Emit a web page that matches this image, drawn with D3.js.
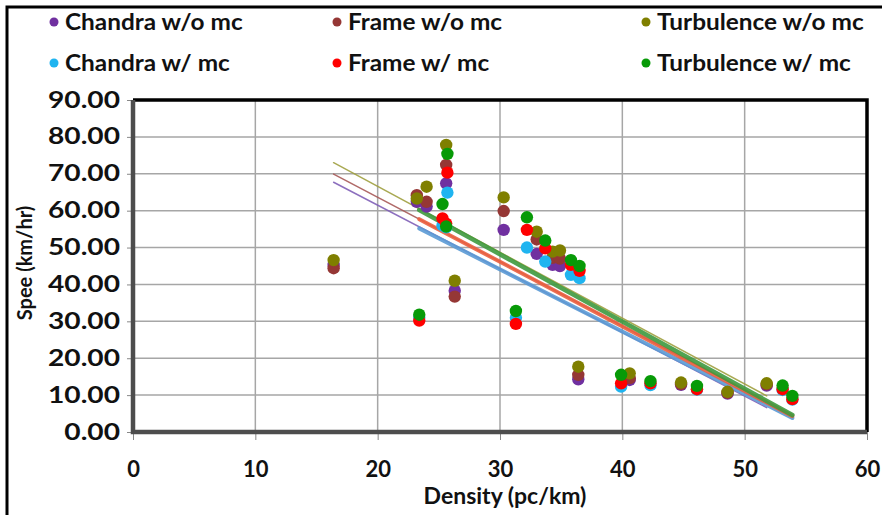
<!DOCTYPE html>
<html>
<head>
<meta charset="utf-8">
<script src="https://cdn.jsdelivr.net/npm/d3@7"></script>
<style>
  body { margin: 0; background: #fff; }
  text { font-family: Lato, "Open Sans", sans-serif; font-weight: bold; fill: #111; }
</style>
</head>
<body>
<svg width="882" height="515"></svg>
<script>
(function (d3) {
  'use strict';

  // densities (x) for the two groups of runs
  const densityNoMc = [16.4, 23.2, 24.0, 25.6, 26.3, 30.3, 33.0, 34.3, 34.9, 36.4, 40.6, 44.8, 48.6, 51.8];
  const densityMc = [23.4, 25.3, 25.6, 25.7, 31.3, 32.2, 33.7, 35.8, 36.5, 39.9, 42.3, 46.1, 53.1, 53.9];

  // speeds (y)
  const chandraNoMc = [45.3, 62.4, 61.1, 67.4, 38.3, 54.8, 48.3, 45.3, 45.0, 14.3, 14.1, 12.8, 10.4, 12.6];
  const frameNoMc = [44.4, 64.2, 62.4, 72.4, 36.7, 59.9, 52.2, 47.2, 47.0, 15.5, 14.6, 13.0, 10.6, 12.9];
  const turbNoMc = [46.6, 63.3, 66.5, 77.8, 41.0, 63.6, 54.3, 48.9, 49.2, 17.7, 15.9, 13.4, 10.9, 13.2];
  const chandraMc = [31.0, 56.0, 55.5, 64.9, 31.0, 50.0, 46.2, 42.6, 41.7, 12.3, 12.7, 11.5, 11.4, 8.8];
  const frameMc = [30.2, 57.9, 56.5, 70.3, 29.3, 54.8, 49.8, 45.3, 43.7, 13.2, 13.2, 11.6, 11.6, 8.9];
  const turbMc = [31.8, 61.8, 55.7, 75.4, 32.8, 58.2, 51.9, 46.6, 45.0, 15.5, 13.8, 12.5, 12.6, 9.8];

  // linear trendlines: [x0, y0, x1, y1]
  const trendChandraNoMc = [16.4, 67.7, 51.8, 6.6];
  const trendFrameNoMc = [16.4, 69.9, 51.8, 8.2];
  const trendTurbNoMc = [16.4, 73.0, 51.8, 9.8];
  const trendChandraMc = [23.4, 55.2, 53.9, 3.8];
  const trendFrameMc = [23.4, 57.7, 53.9, 4.3];
  const trendTurbMc = [23.4, 60.2, 53.9, 4.6];

  const xTicks = [0, 10, 20, 30, 40, 50, 60];
  const yTicks = [0, 10, 20, 30, 40, 50, 60, 70, 80, 90];

  const series = [
    { name: 'Chandra w/o mc', x: densityNoMc, y: chandraNoMc, trend: trendChandraNoMc, color: '#7030a0', line: '#8060b8', lw: 1.5 },
    { name: 'Frame w/o mc', x: densityNoMc, y: frameNoMc, trend: trendFrameNoMc, color: '#953735', line: '#a85a58', lw: 1.5 },
    { name: 'Turbulence w/o mc', x: densityNoMc, y: turbNoMc, trend: trendTurbNoMc, color: '#7f7f00', line: '#a0a040', lw: 1.5 },
    { name: 'Chandra w/ mc', x: densityMc, y: chandraMc, trend: trendChandraMc, color: '#1fb4f0', line: '#5b9bd5', lw: 4 },
    { name: 'Frame w/ mc', x: densityMc, y: frameMc, trend: trendFrameMc, color: '#ff0000', line: '#ec6040', lw: 4 },
    { name: 'Turbulence w/ mc', x: densityMc, y: turbMc, trend: trendTurbMc, color: '#079a07', line: '#3f9a3f', lw: 4.5 }
  ];

  const svg = d3.select('svg');
  const margin = { top: 100, right: 15, bottom: 83, left: 133 };
  const width = +svg.attr('width');
  const height = +svg.attr('height');
  const innerWidth = width - margin.left - margin.right;
  const innerHeight = height - margin.top - margin.bottom;

  // outer chart frame
  svg.append('path')
    .attr('d', `M7,${height + 5} V7 H${width + 5}`)
    .attr('fill', 'none')
    .attr('stroke', '#000')
    .attr('stroke-width', 3);

  const xScale = d3.scaleLinear().domain([0, 60]).range([0, innerWidth]);
  const yScale = d3.scaleLinear().domain([0, 90]).range([innerHeight, 0]);

  const g = svg.append('g')
    .attr('transform', `translate(${margin.left},${margin.top})`);

  // gridlines
  g.append('g')
    .selectAll('line').data(yTicks.slice(1, -1))
    .enter().append('line')
      .attr('x1', 0).attr('x2', innerWidth)
      .attr('y1', d => yScale(d)).attr('y2', d => yScale(d))
      .attr('stroke', '#a6a6a6').attr('stroke-width', 1.5);
  g.append('g')
    .selectAll('line').data(xTicks.slice(1, -1))
    .enter().append('line')
      .attr('y1', 0).attr('y2', innerHeight)
      .attr('x1', d => xScale(d)).attr('x2', d => xScale(d))
      .attr('stroke', '#a6a6a6').attr('stroke-width', 1.5);

  // axes (the original picture is a bit stretched sideways, so are the labels)
  const yAxis = d3.axisLeft(yScale)
    .tickValues(yTicks)
    .tickFormat(d3.format('.2f'))
    .tickSize(6)
    .tickPadding(8);
  const yAxisG = g.append('g').call(yAxis);
  yAxisG.select('.domain').remove();
  yAxisG.selectAll('.tick line').attr('stroke', '#888');
  yAxisG.selectAll('.tick text')
    .attr('x', 0)
    .attr('transform', 'translate(-13,0) scale(1.28,1)')
    .attr('font-size', 22)
    .attr('font-family', null)
    .attr('fill', '#111');

  const xAxis = d3.axisBottom(xScale)
    .tickValues(xTicks)
    .tickSize(8)
    .tickPadding(21);
  const xAxisG = g.append('g')
    .attr('transform', `translate(0,${innerHeight})`)
    .call(xAxis);
  xAxisG.select('.domain').remove();
  xAxisG.selectAll('.tick line').attr('stroke', '#888');
  xAxisG.selectAll('.tick text')
    .attr('font-size', 22)
    .attr('font-family', null)
    .attr('fill', '#111');

  // trendlines
  g.append('g')
    .selectAll('line').data(series)
    .enter().append('line')
      .attr('x1', d => xScale(d.trend[0]))
      .attr('y1', d => yScale(d.trend[1]))
      .attr('x2', d => xScale(d.trend[2]))
      .attr('y2', d => yScale(d.trend[3]))
      .attr('stroke', d => d.line)
      .attr('stroke-width', d => d.lw)
      .attr('stroke-linecap', 'round')
      .attr('opacity', 0.9);

  // points
  series.forEach(s => {
    g.append('g')
      .selectAll('circle').data(s.y)
      .enter().append('circle')
        .attr('cx', (d, i) => xScale(s.x[i]))
        .attr('cy', d => yScale(d))
        .attr('r', 6.2)
        .attr('fill', s.color);
  });

  // plot border
  g.append('path')
    .attr('d', `M0,0 H${innerWidth} V${innerHeight}`)
    .attr('fill', 'none')
    .attr('stroke', '#000')
    .attr('stroke-width', 3.5);
  g.append('path')
    .attr('d', `M0,0 V${innerHeight} H${innerWidth}`)
    .attr('fill', 'none')
    .attr('stroke', '#4d4d4d')
    .attr('stroke-width', 4.5);

  // axis titles
  svg.append('text')
    .attr('transform', `translate(32,${margin.top + innerHeight / 2 - 3}) rotate(-90)`)
    .attr('text-anchor', 'middle')
    .attr('font-size', 20)
    .text('Spee (km/hr)');
  svg.append('text')
    .attr('x', margin.left + innerWidth / 2 + 5)
    .attr('y', 504)
    .attr('text-anchor', 'middle')
    .attr('font-size', 23)
    .text('Density (pc/km)');

  // legend
  const legendX = [54, 337, 646];
  const legendY = [22, 63];
  const legend = svg.append('g')
    .selectAll('g').data(series)
    .enter().append('g')
      .attr('transform', (d, i) => `translate(${legendX[i % 3]},${legendY[Math.floor(i / 3)]})`);
  legend.append('circle')
    .attr('r', 4.5)
    .attr('fill', d => d.color);
  legend.append('text')
    .attr('transform', 'translate(11,0) scale(1.06,1)')
    .attr('dy', '0.35em')
    .attr('font-size', 23)
    .text(d => d.name);

}(d3));
</script>
</body>
</html>
